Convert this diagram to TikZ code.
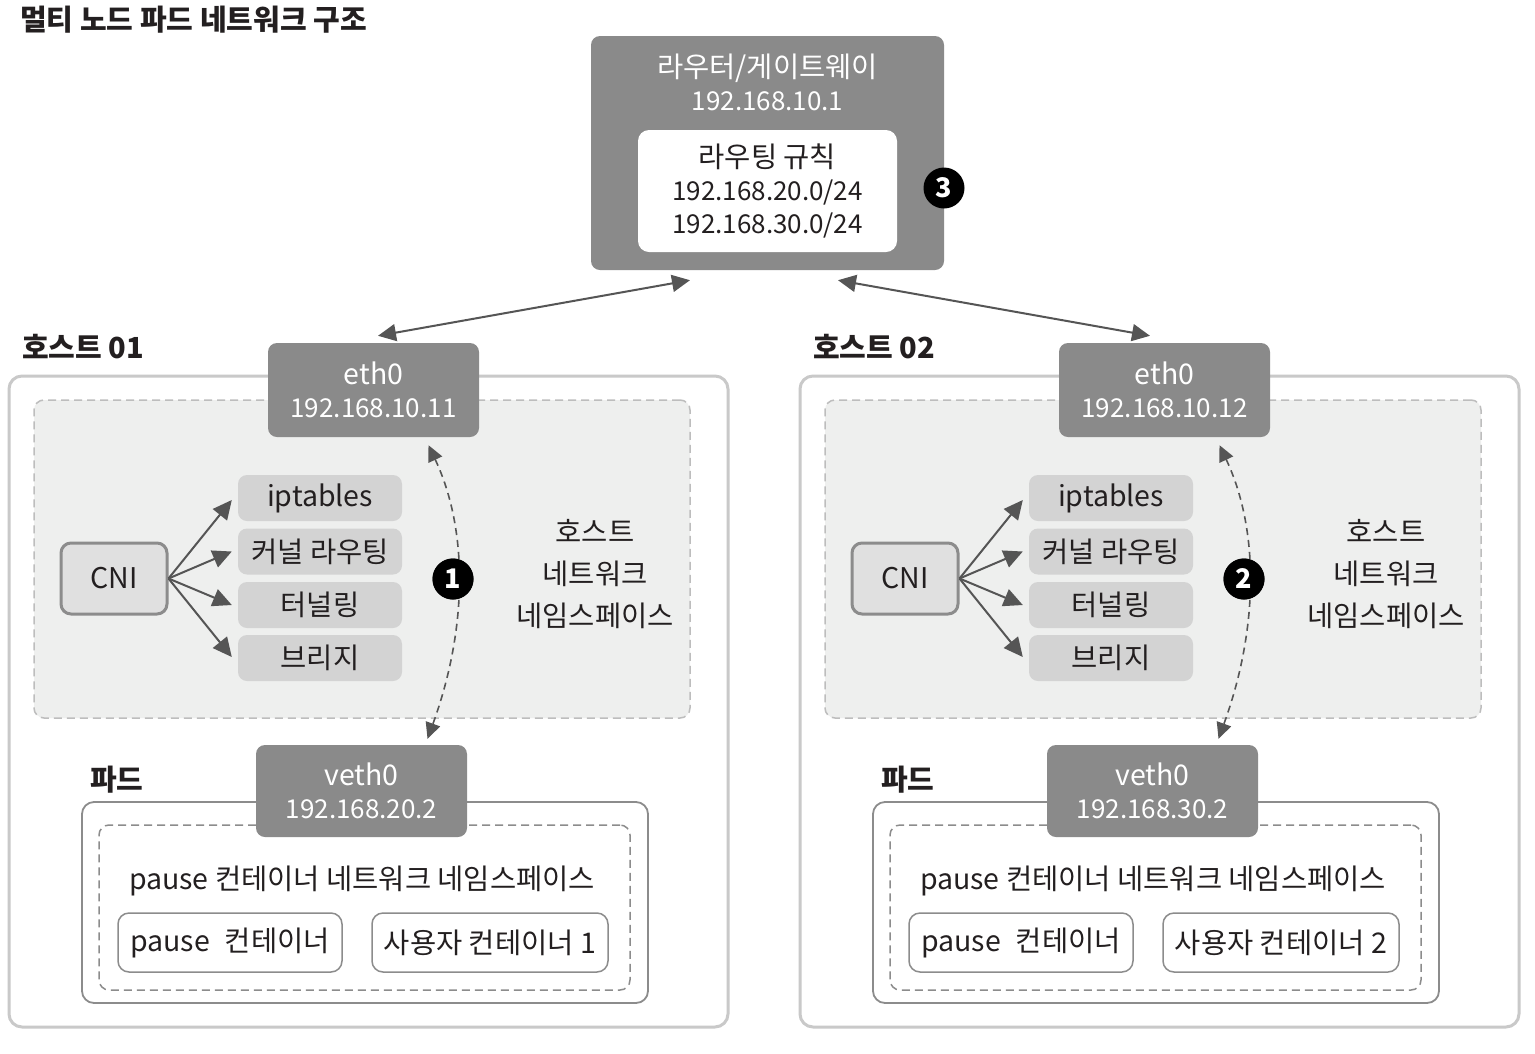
\documentclass[tikz,border=0pt]{standalone}
\usepackage{fontspec}
\setmainfont{Noto Sans CJK KR}
\usetikzlibrary{arrows.meta,calc}
\definecolor{boxgray}{HTML}{8A8A8A}
\definecolor{itemgray}{HTML}{D3D3D3}
\definecolor{cnifill}{HTML}{E0E0E0}
\definecolor{cniline}{HTML}{8C8C8C}
\definecolor{nsfill}{HTML}{EEEFEE}
\definecolor{nsline}{HTML}{BDBDBD}
\definecolor{hostline}{HTML}{C9C9C9}
\definecolor{arrowgray}{HTML}{555555}
\definecolor{ink}{HTML}{231F20}
\newcommand{\ipf}{\fontsize{26}{33}\selectfont}
\begin{document}
\begin{tikzpicture}[x=1pt,y=-1pt,
  txt/.style={font=\fontsize{28.5}{33}\selectfont, text=ink, align=center, inner sep=0pt},
  ttl/.style={font=\fontsize{29}{33}\selectfont\bfseries, text=ink, anchor=west, inner sep=0pt},
  darkbox/.style={fill=boxgray, rounded corners=9pt, text=white, align=center, inner sep=0pt, font=\fontsize{28.5}{33}\selectfont},
  itembox/.style={fill=itemgray, rounded corners=9pt, minimum width=164pt, minimum height=46pt, txt},
  cbox/.style={draw=cniline, line width=1.5pt, fill=white, rounded corners=11pt, minimum height=59pt, txt},
  numc/.style={circle, fill=black, minimum size=41pt, inner sep=0pt, text=white, font=\fontsize{27}{30}\selectfont\bfseries},
  link/.style={draw=arrowgray, line width=2pt, -{Triangle[length=19pt,width=18pt]}},
  biline/.style={draw=arrowgray, line width=2pt, {Triangle[length=18pt,width=17pt]}-{Triangle[length=18pt,width=17pt]}},
  dashlink/.style={draw=arrowgray, line width=1.6pt, dash pattern=on 7pt off 5pt, {Triangle[length=16pt,width=15pt]}-{Triangle[length=16pt,width=15pt]}}
]
\useasboundingbox (0,0) rectangle (1535,1053);
\fill[white] (0,0) rectangle (1535,1053);

% title
\node[ttl] (title) at (20,20) {멀티 노드 파드 네트워크 구조};

% router
\node[darkbox, minimum width=353pt, minimum height=234pt] (router) at (767.5,153) {};
\node[txt, text=white] (routertxt) at (767.5,82) {라우터/게이트웨이\\{\ipf 192.168.10.1}};
\node[fill=white, rounded corners=11pt, minimum width=259pt, minimum height=122pt, txt] (rules) at (767.5,191) {라우팅 규칙\\{\ipf 192.168.20.0/24}\\{\ipf 192.168.30.0/24}};
\node[numc] (n3) at (944,188) {3};

\foreach \i/\dx/\ip/\pip in {1/0/11/20, 2/791/12/30}{
\begin{scope}[xshift=\dx pt]
  \node[ttl] (hostlbl\i) at (22,347) {호스트 0\i};
  \node[draw=hostline, line width=3pt, fill=white, rounded corners=13pt, minimum width=719pt, minimum height=651pt] (host\i) at (368.5,701.5) {};
  \node[draw=nsline, line width=1.5pt, dash pattern=on 8pt off 5pt, fill=nsfill, rounded corners=10pt, minimum width=656pt, minimum height=318pt] (hostns\i) at (362,559) {};
  \node[darkbox, minimum width=211pt, minimum height=94pt] (eth\i) at (373.5,390) {eth0\\{\ipf 192.168.10.\ip}};
  \node[draw=cniline, line width=3pt, fill=cnifill, rounded corners=10pt, minimum width=106pt, minimum height=71pt, txt] (cni\i) at (114,578.5) {CNI};
  \node[itembox] (ipt\i) at (320,498) {iptables};
  \node[itembox] (kr\i) at (320,551.5) {커널 라우팅};
  \node[itembox] (tun\i) at (320,605) {터널링};
  \node[itembox] (br\i) at (320,658) {브리지};
  \node[txt, font=\fontsize{28.5}{42}\selectfont] (nslbl\i) at (595,574) {호스트\\네트워크\\네임스페이스};
  \node[ttl] (podlbl\i) at (90,780) {파드};
  \node[draw=cniline, line width=1.8pt, fill=white, rounded corners=12pt, minimum width=566pt, minimum height=201pt] (pod\i) at (365,902.5) {};
  \node[draw=cniline, line width=1.5pt, dash pattern=on 8pt off 5pt, rounded corners=10pt, minimum width=531pt, minimum height=165pt] (podns\i) at (364.5,907.5) {};
  \node[darkbox, minimum width=211pt, minimum height=92pt] (veth\i) at (361.5,791) {veth0\\{\ipf 192.168.\pip.2}};
  \node[txt] (podnslbl\i) at (362,881) {pause 컨테이너 네트워크 네임스페이스};
  \node[cbox, minimum width=224pt] (pc\i) at (230,942.5) {pause\hspace{0.3em} 컨테이너};
  \node[cbox, minimum width=236pt] (uc\i) at (490,942.5) {사용자 컨테이너 \i};
  \node[numc] (n\i) at (453,579) {\i};
\end{scope}
\draw[link] (cni\i.east) -- ($(ipt\i.west)+(-6,2)$);
\draw[link] (cni\i.east) -- ($(kr\i.west)+(-6,0)$);
\draw[link] (cni\i.east) -- ($(tun\i.west)+(-6,0)$);
\draw[link] (cni\i.east) -- ($(br\i.west)+(-6,-1)$);
\coordinate (dtop\i) at ($(eth\i.south)+(55,8)$);
\coordinate (dbot\i) at ($(veth\i.north)+(66,-6)$);
\draw[dashlink] (dtop\i) .. controls ($(dtop\i)+(40,85)$) and ($(dbot\i)+(40,-110)$) .. (dbot\i);
\node[numc] at (n\i) {\i};
}

\coordinate (ra) at ($(router.south)+(-77.5,10)$);
\coordinate (rb) at ($(router.south)+(70.5,10)$);
\coordinate (ea) at ($(eth1.north)+(4.5,-7)$);
\coordinate (eb) at ($(eth2.north)+(-14.5,-7)$);
\draw[biline] (ra) -- (ea);
\draw[biline] (rb) -- (eb);
\end{tikzpicture}
\end{document}
